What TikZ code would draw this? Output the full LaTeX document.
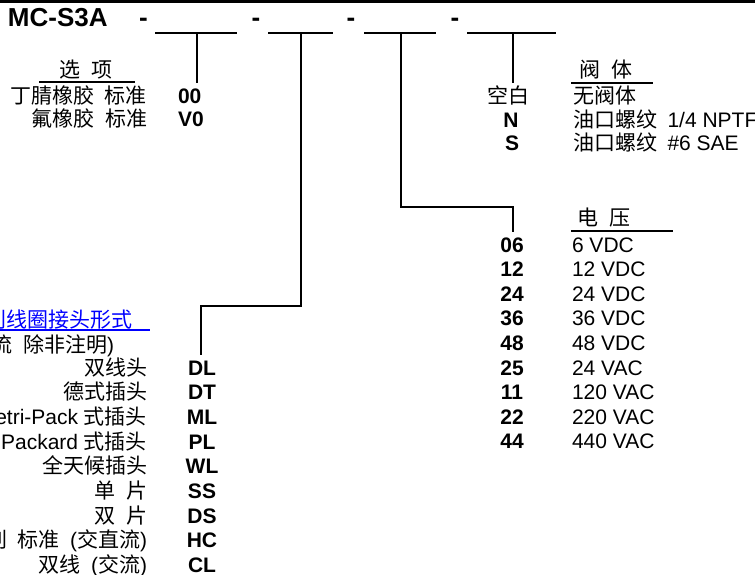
\documentclass[tikz,border=0pt]{standalone}
\usepackage{fontspec}
\setmainfont{Liberation Sans}
\newfontfamily\cjk{Noto Sans CJK SC}
\newcommand{\zh}[1]{{\cjk #1}}
\newcommand{\gp}{\hspace{0.5em}}
\begin{document}
\begin{tikzpicture}[x=1pt,y=-1pt,
  every node/.style={inner sep=0pt, outer sep=0pt},
  txt/.style={font=\fontsize{21}{25}\selectfont},
  zhtxt/.style={font=\fontsize{21}{25}\selectfont\cjk},
  codetxt/.style={font=\fontsize{21}{25}\selectfont\bfseries},
  dashsym/.style={font=\fontsize{26}{30}\selectfont\bfseries, anchor=base},
  lead/.style={line width=2pt},
  uline/.style={line width=2.8pt}]
\useasboundingbox (0,0) rectangle (755,575);
% top rule
\coordinate (tl) at (0,1.5); \coordinate (tr) at (755,1.5);
\draw[line width=3pt] (tl) -- (tr);
% model
\node[font=\fontsize{26}{30}\selectfont\bfseries, anchor=base west] (model) at (8,27) {MC-S3A};
\node[dashsym] (d1) at (143.5,27) {-};
\node[dashsym] (d2) at (256,27) {-};
\node[dashsym] (d3) at (351,27) {-};
\node[dashsym] (d4) at (455,27) {-};
% blanks
\coordinate (b1l) at (155,33); \coordinate (b1r) at (237,33);
\coordinate (b2l) at (268,33); \coordinate (b2r) at (333,33);
\coordinate (b3l) at (364,33); \coordinate (b3r) at (436,33);
\coordinate (b4l) at (467,33); \coordinate (b4r) at (556,33);
\draw[lead] (b1l) -- (b1r);
\draw[lead] (b2l) -- (b2r);
\draw[lead] (b3l) -- (b3r);
\draw[lead] (b4l) -- (b4r);
% leaders
\coordinate (v1t) at (197,33); \coordinate (v1b) at (197,83);
\coordinate (v2t) at (301,33); \coordinate (v2c) at (301,306); \coordinate (v2d) at (201,306); \coordinate (v2b) at (201,355);
\coordinate (v3t) at (401,33); \coordinate (v3c) at (401,207); \coordinate (v3d) at (513,207); \coordinate (v3b) at (513,232);
\coordinate (v4t) at (513,33); \coordinate (v4b) at (513,83);
\draw[lead] (v1t) -- (v1b);
\draw[lead] (v2t) -- (v2c) -- (v2d) -- (v2b);
\draw[lead] (v3t) -- (v3c) -- (v3d) -- (v3b);
\draw[lead] (v4t) -- (v4b);
% options
\node[zhtxt, anchor=base] (hopt) at (86,78) {选\gp{}项};
\coordinate (uol) at (39,82); \coordinate (uor) at (135,82);
\draw[uline] (uol) -- (uor);
\node[zhtxt, anchor=base east] (opt1) at (147,104) {丁腈橡胶\gp{}标准};
\node[zhtxt, anchor=base east] (opt2) at (147,127) {氟橡胶\gp{}标准};
\node[codetxt, anchor=base west] (c00) at (178,104) {00};
\node[codetxt, anchor=base west] (cV0) at (178,127) {V0};
% valve body
\node[zhtxt, anchor=base] (hvb) at (606,78) {阀\gp{}体};
\coordinate (uvl) at (571,83); \coordinate (uvr) at (653,83);
\draw[uline] (uvl) -- (uvr);
\node[zhtxt, anchor=base] (blank) at (508,104) {空白};
\node[codetxt, anchor=base] (cN) at (511,128) {N};
\node[codetxt, anchor=base] (cS) at (512,151) {S};
\node[zhtxt, anchor=base west] (vb0) at (573,104) {无阀体};
\node[txt, anchor=base west] (vb1) at (573,128) {\zh{油口螺纹}\gp{}1/4 NPTF};
\node[txt, anchor=base west] (vb2) at (573,151) {\zh{油口螺纹}\gp{}\#6 SAE};
% voltage
\node[zhtxt, anchor=base] (hv) at (604,225) {电\gp{}压};
\coordinate (uvvl) at (571,231); \coordinate (uvvr) at (673,231);
\draw[uline] (uvvl) -- (uvvr);
\foreach \c/\t [count=\i from 0] in {06/6 VDC,12/12 VDC,24/24 VDC,36/36 VDC,48/48 VDC,25/24 VAC,11/120 VAC,22/220 VAC,44/440 VAC}{
  \node[codetxt, anchor=base] (vc\i) at (512,252+24.6*\i) {\c};
  \node[txt, anchor=base west] (vt\i) at (572,252+24.6*\i) {\t};
}
% coil connection
\node[zhtxt, anchor=base west, text=blue] (hcoil) at (-14,327) {别线圈接头形式};
\coordinate (ucl) at (0,330); \coordinate (ucr) at (150,330);
\draw[blue, line width=2pt] (ucl) -- (ucr);
\node[txt, anchor=base east] (note) at (114,352) {(\zh{直流}\gp{}\zh{除非注明})};
\foreach \t/\c [count=\i from 0] in {\zh{双线头}/DL,\zh{德式插头}/DT,Metri-Pack \zh{式插头}/ML,Packard \zh{式插头}/PL,\zh{全天候插头}/WL,\zh{单}\gp{}\zh{片}/SS,\zh{双}\gp{}\zh{片}/DS,\zh{别}\gp{}\zh{标准}\gp{}(\zh{交直流})/HC,\zh{双线}\gp{}(\zh{交流})/CL}{
  \node[txt, anchor=base east] (ct\i) at (147,375+24.7*\i) {\t};
  \node[codetxt, anchor=base] (cc\i) at (202,375+24.7*\i) {\c};
}
\end{tikzpicture}
\end{document}
